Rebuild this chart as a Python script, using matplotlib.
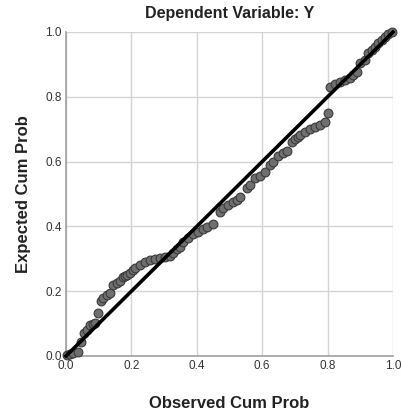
import matplotlib
matplotlib.use("Agg")
import matplotlib.pyplot as plt

plt.rcParams['font.family'] = ['Liberation Sans', 'DejaVu Sans']

title = "Dependent Variable: Y"
x_label = "Observed Cum Prob"
y_label = "Expected Cum Prob"
ticks = [0.0, 0.2, 0.4, 0.6, 0.8, 1.0]
tick_labels = ["0.0", "0.2", "0.4", "0.6", "0.8", "1.0"]

observed = [0.003, 0.012, 0.022, 0.037, 0.046, 0.055, 0.064, 0.073, 0.083, 0.090,
            0.098, 0.107, 0.113, 0.125, 0.134, 0.144, 0.156, 0.165, 0.174, 0.180,
            0.187, 0.196, 0.205, 0.211, 0.226, 0.242, 0.257, 0.272, 0.287, 0.303,
            0.318, 0.327, 0.340, 0.349, 0.358, 0.373, 0.388, 0.404, 0.419, 0.431,
            0.450, 0.471, 0.480, 0.495, 0.511, 0.522, 0.532, 0.553, 0.563, 0.578,
            0.593, 0.609, 0.624, 0.633, 0.648, 0.664, 0.676, 0.691, 0.700, 0.709,
            0.716, 0.731, 0.746, 0.761, 0.777, 0.792, 0.801, 0.807, 0.823, 0.838,
            0.853, 0.868, 0.878, 0.890, 0.899, 0.914, 0.924, 0.936, 0.945, 0.954,
            0.966, 0.975, 0.985, 0.997]
expected = [0.003, 0.005, 0.008, 0.012, 0.043, 0.071, 0.080, 0.096, 0.099, 0.101,
            0.133, 0.170, 0.179, 0.188, 0.194, 0.219, 0.225, 0.232, 0.244, 0.247,
            0.250, 0.256, 0.265, 0.272, 0.281, 0.290, 0.296, 0.299, 0.302, 0.306,
            0.309, 0.318, 0.330, 0.336, 0.352, 0.364, 0.376, 0.383, 0.392, 0.398,
            0.407, 0.444, 0.457, 0.466, 0.475, 0.483, 0.491, 0.519, 0.528, 0.549,
            0.556, 0.568, 0.590, 0.599, 0.617, 0.626, 0.633, 0.660, 0.670, 0.676,
            0.682, 0.691, 0.700, 0.707, 0.713, 0.722, 0.750, 0.830, 0.840, 0.846,
            0.852, 0.858, 0.867, 0.877, 0.904, 0.914, 0.935, 0.944, 0.954, 0.966,
            0.975, 0.985, 0.994, 1.000]
ref_line = [0.0, 1.0]

fig = plt.figure(figsize=(4.01, 4.17), dpi=100)
ax = fig.add_axes([66/401, 61/417, 327/401, 324/417])

ax.set_xlim(0, 1)
ax.set_ylim(0, 1)
ax.set_xticks(ticks)
ax.set_xticklabels(tick_labels)
ax.set_yticks(ticks)
ax.set_yticklabels(tick_labels)
ax.grid(True, color='#d4d4d4', linewidth=1.0)
ax.set_axisbelow(True)
for s in ['top', 'right']:
    ax.spines[s].set_visible(False)
for s in ['left', 'bottom']:
    ax.spines[s].set_color('#a0a0a0')
    ax.spines[s].set_linewidth(1.2)
ax.tick_params(length=0, labelsize=8.5, pad=3, colors='#333333')

ax.scatter(observed, expected, s=40, facecolor='#6f6f6f', edgecolor='#3a3a3a',
           linewidth=0.8, zorder=3, clip_on=False)
ax.plot(ref_line, ref_line, color='black', linewidth=2.6, zorder=4, clip_on=False)

ax.set_title(title, fontsize=11.5, fontweight='bold', pad=10, color='#222222')
ax.set_xlabel(x_label, fontsize=12, fontweight='bold', labelpad=17, color='#222222')
ax.set_ylabel(y_label, fontsize=12, fontweight='bold', labelpad=10, color='#222222')

fig.savefig("out.png", dpi=100)
